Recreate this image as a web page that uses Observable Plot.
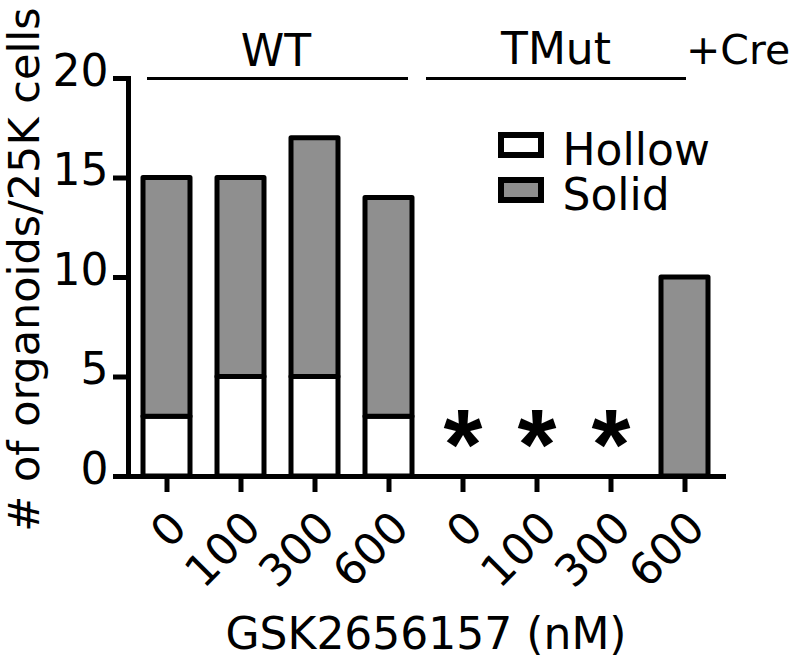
<!DOCTYPE html>
<html><head><meta charset="utf-8">
<script src="https://cdn.jsdelivr.net/npm/d3@7"></script>
<script src="https://cdn.jsdelivr.net/npm/@observablehq/plot@0.6"></script>
<style>body{margin:0;background:#fff} #chart svg{display:block}</style>
</head><body><div id="chart"></div>
<script>
// ---- data ----
const groups = ["WT","WT","WT","WT","TMut","TMut","TMut","TMut"];
const doses = ["0","100","300","600","0","100","300","600"];
const hollow = [3,5,5,3,0,0,0,0];
const solid = [12,10,12,11,0,0,0,10];
const significant = [false,false,false,false,true,true,true,false];
const seriesNames = ["Hollow","Solid"];
const seriesColors = ["#ffffff","#8f8f8f"];
const yTicks = [0,5,10,15,20];
const yLabel = "# of organoids/25K cells";
const xLabel = "GSK2656157 (nM)";
const groupLabels = ["WT","TMut","+Cre"];

// ---- build ----
const keys = groups.map((g,i) => `${g}-${doses[i]}`);
const doseOf = Object.fromEntries(keys.map((k,i) => [k, doses[i]]));
const table = [];
keys.forEach((k,i) => {
  table.push({key:k, series:seriesNames[0], value:hollow[i]});
  table.push({key:k, series:seriesNames[1], value:solid[i]});
});
const bars = table.filter(d => d.value > 0);
const starKeys = keys.filter((k,i) => significant[i]);
const yMax = d3.max(yTicks);
const FONT = "DejaVu Sans";

const boxSymbol = {draw(ctx){ ctx.moveTo(-20,-10); ctx.lineTo(20,-10); ctx.lineTo(20,10); ctx.lineTo(-20,10); ctx.closePath(); }};

const legendMarks = seriesNames.flatMap((name,i) => [
  Plot.dot([name], {frameAnchor:"top-left", dx:392.5, dy:66.5 + i*45, symbol:boxSymbol, r:10,
    fill:d=>d, stroke:"black", strokeWidth:6}),
  Plot.text([name], {frameAnchor:"top-left", dx:434, dy:86 + i*45, text:d=>d, textAnchor:"start",
    lineAnchor:"bottom", fontSize:44, fill:"black"})
]);

const chart = Plot.plot({
  width: 797, height: 664,
  marginLeft: 128, marginRight: 74, marginTop: 78, marginBottom: 188,
  style: {fontFamily: FONT, fontSize: "44px", color: "black", background: "white"},
  x: {type:"band", domain: keys, paddingInner: 0.37, paddingOuter: 0.185, align: 0.5},
  y: {domain: [0, yMax]},
  color: {domain: seriesNames, range: seriesColors},
  marks: [
    Plot.barY(bars, {x:"key", y:"value", fill:"series", stroke:"black", strokeWidth:5, strokeLinejoin:"round"}),
    Plot.frame({anchor:"left", strokeWidth:5, stroke:"black"}),
    Plot.frame({anchor:"bottom", strokeWidth:5, stroke:"black"}),
    // y axis: ticks and labels separately
    Plot.axisY({ticks: yTicks, tickSize:15, strokeWidth:5, stroke:"black", fill:"none", label:null}),
    Plot.axisY({ticks: yTicks, tickSize:15, tickPadding:5, stroke:"none", fill:"black", fontSize:44, label:null, dy:-7}),
    // x axis: ticks and labels separately
    Plot.axisX({tickSize:16, strokeWidth:5, stroke:"black", fill:"none", label:null}),
    Plot.axisX({tickSize:16, stroke:"none", fill:"black", tickRotate:-45, fontSize:44, label:null,
      tickFormat: k => doseOf[k], dx:12, dy:22}),
    Plot.text([xLabel], {frameAnchor:"bottom", dy:172, lineAnchor:"bottom", fontSize:44, fill:"black"}),
    Plot.text([yLabel], {frameAnchor:"left", rotate:-90, dx:-90, dy:-8, textAnchor:"middle", lineAnchor:"bottom", fontSize:43, fill:"black"}),
    // group brackets
    Plot.ruleY([{a:keys[0], b:keys[3], y:yMax}], {x1:"a", x2:"b", y:"y", strokeWidth:3, stroke:"black", insetLeft:4, insetRight:4}),
    Plot.ruleY([{a:keys[4], b:keys[7], y:yMax}], {x1:"a", x2:"b", y:"y", strokeWidth:3, stroke:"black", insetLeft:-13, insetRight:22}),
    Plot.text([groupLabels[0]], {x:()=>keys[1], y:()=>yMax, dx:35, dy:-13, lineAnchor:"bottom", fontSize:44, fill:"black"}),
    Plot.text([groupLabels[1]], {x:()=>keys[5], y:()=>yMax, dx:19, dy:-15, lineAnchor:"bottom", fontSize:44, fill:"black"}),
    Plot.text([groupLabels[2]], {x:()=>keys[7], y:()=>yMax, dx:1, dy:-15, textAnchor:"start", lineAnchor:"bottom", fontSize:41, fill:"black"}),
    // significance stars
    Plot.text(starKeys, {x:d=>d, y:()=>0, text:()=>"*", dy:2, lineAnchor:"bottom", fontSize:100, fontWeight:"bold", fontFamily:"Liberation Sans", fill:"black"}),
    ...legendMarks
  ]
});
document.getElementById("chart").appendChild(chart);
</script>
</body></html>
